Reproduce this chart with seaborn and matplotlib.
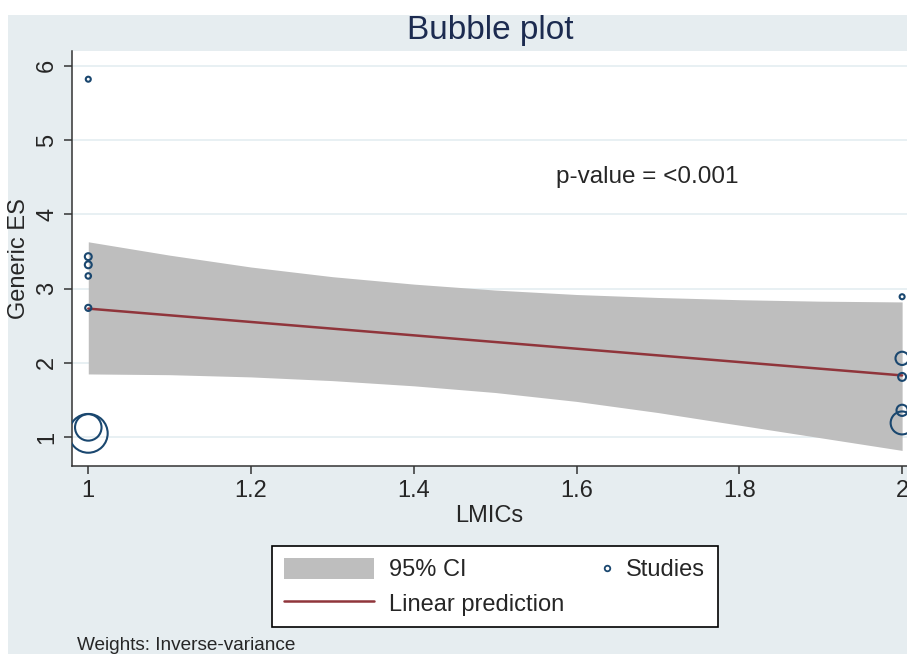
import numpy as np
import pandas as pd
import seaborn as sns
import matplotlib.pyplot as plt
from matplotlib.patches import Patch, Rectangle
from matplotlib.lines import Line2D

# study-level effect sizes (LMICs coded 1/2) and inverse-variance weights
study_x = [1, 1, 1, 1, 1, 1, 1, 2, 2, 2, 2, 2]
study_es = [5.82, 3.43, 3.32, 3.17, 2.74, 1.13, 1.05, 2.89, 2.06, 1.81, 1.36, 1.19]
study_w = [1.0, 1.9, 1.9, 1.2, 1.5, 28, 60, 1.0, 7, 2.5, 5, 21]

# linear prediction and its 95% CI band
fit_x = [1.0, 2.0]
fit_y = [2.73, 1.83]
ci_x = [1.0, 1.1, 1.2, 1.3, 1.4, 1.5, 1.6, 1.7, 1.8, 1.9, 2.0]
ci_upper = [3.63, 3.45, 3.29, 3.16, 3.06, 2.98, 2.92, 2.88, 2.85, 2.83, 2.82]
ci_lower = [1.85, 1.84, 1.81, 1.76, 1.69, 1.60, 1.48, 1.33, 1.16, 0.99, 0.82]

x_ticks = [1, 1.2, 1.4, 1.6, 1.8, 2]
x_ticklabels = ["1", "1.2", "1.4", "1.6", "1.8", "2"]
y_ticks = [1, 2, 3, 4, 5, 6]

NAVY = "#1a476f"
MAROON = "#90353b"
CI_GREY = "#bebebe"
BG = "#e6edf0"
GRID = "#e6eff2"

sns.set_theme(style="white")
plt.rcParams["font.family"] = ["Liberation Sans", "DejaVu Sans"]

df = pd.DataFrame({"x": study_x, "es": study_es, "w": study_w})

fig = plt.figure(figsize=(9.07, 6.54), dpi=100)
fig.patch.set_facecolor("white")
# Stata-like graph region (the reference is cropped at top/left)
fig.patches.append(Rectangle((8 / 907, 0), 1, 1 - 15 / 654, transform=fig.transFigure,
                             facecolor=BG, edgecolor="none", zorder=-10))

ax = fig.add_axes([72 / 907, 1 - 466 / 654, 1 - 72 / 907, (466 - 51) / 654])
ax.set_facecolor("white")

ax.fill_between(ci_x, ci_lower, ci_upper, color=CI_GREY, lw=0, zorder=1)
sns.lineplot(x=fit_x, y=fit_y, ax=ax, color=MAROON, lw=1.8, zorder=2)
sns.scatterplot(data=df, x="x", y="es", size="w", sizes=(13, 780), legend=False,
                facecolor="none", edgecolor=NAVY, linewidth=1.5, ax=ax, zorder=3)

ax.set_xlim(0.980, 2.006)
ax.set_ylim(0.61, 6.2)
ax.set_xticks(x_ticks)
ax.set_xticklabels(x_ticklabels)
ax.set_yticks(y_ticks)
ax.tick_params(axis="both", direction="out", length=6, width=1.1, color="#333333",
               labelsize=17, pad=4, bottom=True, left=True)
for lab in ax.get_yticklabels():
    lab.set_rotation(90)
    lab.set_va("center")
ax.yaxis.grid(True, color=GRID, lw=1.3)
ax.xaxis.grid(False)
ax.set_axisbelow(True)
for side in ["top", "right"]:
    ax.spines[side].set_visible(False)
for side in ["left", "bottom"]:
    ax.spines[side].set_color("#333333")
    ax.spines[side].set_linewidth(1.1)

ax.set_xlabel("LMICs", fontsize=17, labelpad=2)
ax.set_ylabel("Generic ES", fontsize=17)
ax.yaxis.label.set_va("center")
ax.yaxis.set_label_coords(-(72 - 19) / 835, 0.5)

ax.text(1.575, 4.50, "p-value = <0.001", fontsize=17.5, va="center", ha="left")

fig.text(490 / 907, 1 - 31 / 654, "Bubble plot", fontsize=24, color="#1c2b50",
         ha="center", va="center")
fig.text(77 / 907, 1 - 646 / 654, "Weights: Inverse-variance", fontsize=13.7,
         ha="left", va="center")

# legend: box with CI + fit, studies entry added as a second frameless legend
h_ci = Patch(facecolor=CI_GREY, edgecolor="none", label="95% CI")
h_fit = Line2D([], [], color=MAROON, lw=1.8, label="Linear prediction")
leg = fig.legend(handles=[h_ci, h_fit], loc="upper left", mode="expand",
                 bbox_to_anchor=(272 / 907, 1 - 625 / 654, (718 - 272) / 907, (625 - 546) / 654),
                 borderaxespad=0, fontsize=17, handlelength=3.8, handleheight=1.0,
                 handletextpad=0.64, borderpad=0.5, labelspacing=0.44,
                 fancybox=False, frameon=True, edgecolor="black", facecolor="white",
                 framealpha=1)
leg.get_frame().set_linewidth(1.2)

h_st = Line2D([], [], ls="none", marker="o", ms=4, mfc="none", mec=NAVY, mew=1.3,
              label="Studies")
leg2 = fig.legend(handles=[h_st], loc="center left", bbox_to_anchor=(595 / 907, 1 - 570 / 654),
                  borderaxespad=0, borderpad=0, fontsize=17, handlelength=1.0,
                  handletextpad=0.3, frameon=False)

fig.savefig("out.png", dpi=100)
